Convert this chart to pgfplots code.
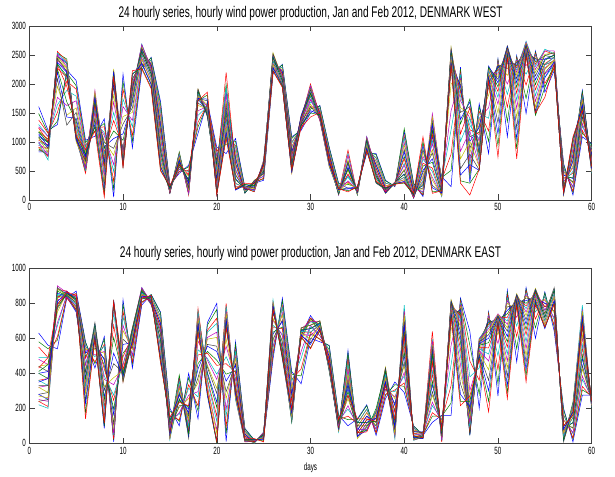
\documentclass[border=0pt]{standalone}
\usepackage{fontspec}
\setmainfont{Liberation Sans}
\newfontfamily\tickfont[FakeStretch=0.6]{Liberation Sans}
\newfontfamily\titlefont[FakeStretch=0.655]{Liberation Sans}
\usepackage{pgfplots}
\pgfplotsset{compat=1.18}
\usepackage{pgfplotstable}

% MATLAB default line colours
\definecolor{mb}{rgb}{0,0,1}
\definecolor{mg}{rgb}{0,0.5,0}
\definecolor{mr}{rgb}{1,0,0}
\definecolor{mc}{rgb}{0,0.75,0.75}
\definecolor{mm}{rgb}{0.75,0,0.75}
\definecolor{my}{rgb}{0.75,0.75,0}
\definecolor{mk}{rgb}{0.25,0.25,0.25}
\pgfplotscreateplotcyclelist{matlab}{{mb},{mg},{mr},{mc},{mm},{my},{mk}}

% day, then hours 0..23 (MW)
\pgfplotstableread[header=false]{
1 1610 1490 1380 1300 1260 1190 1170 1110 1090 1030 1000 940 910 850 830 880 910 980 1000 1060 1080 1140 1170 1240
2 1200 1160 1150 1100 1095 1050 1045 1000 995 950 935 890 885 840 825 770 750 690 770 820 890 920 990 1010
3 1300 1360 1510 1640 1770 1960 2090 2210 2260 2330 2350 2410 2420 2470 2480 2530 2560 2530 2510 2460 2440 2370 2340 2270
4 2240 2190 2050 1890 1630 1460 1290 1430 1690 1960 2090 2210 2270 2350 2370 2430 2390 2370 2300 2280 2220 2200 2140 2120
5 2060 1970 1910 1790 1710 1590 1510 1410 1360 1290 1260 1190 1170 1110 1100 1070 1070 1030 1030 1000 1040 1050 1100 1100
6 1030 990 930 910 850 830 770 750 690 670 610 600 560 550 500 490 460 510 550 630 670 750 790 870
7 1100 1190 1250 1350 1410 1510 1560 1650 1690 1770 1810 1890 1860 1790 1750 1670 1630 1550 1510 1430 1390 1310 1270 1190
8 1400 1320 1260 1160 1110 1020 990 920 890 820 790 720 700 640 620 560 530 450 400 300 240 140 100 50
9 50 190 320 490 610 770 890 1060 1190 1370 1510 1690 1810 1950 2010 2090 2120 2190 2210 2260 2230 2210 2150 2130
10 2170 2040 1910 1740 1610 1440 1310 1140 1030 910 890 840 830 790 800 770 780 750 750 690 660 590 570 550
11 900 1010 1110 1260 1370 1510 1590 1690 1740 1810 1840 1890 1890 1930 1930 1970 1970 2010 2020 2070 2090 2160 2180 2230
12 2240 2290 2320 2390 2420 2490 2520 2590 2610 2670 2690 2680 2630 2620 2570 2560 2510 2500 2450 2430 2370 2350 2280 2260
13 2460 2450 2410 2410 2370 2370 2330 2330 2290 2290 2250 2250 2210 2210 2170 2170 2120 2110 2060 2050 2000 1990 1940 1920
14 1700 1650 1570 1530 1450 1410 1330 1290 1210 1170 1090 1050 970 930 860 830 760 730 670 650 590 570 520 500
15 260 245 225 225 205 205 185 185 165 165 145 145 125 125 115 125 125 145 145 165 175 205 215 245
16 460 490 495 530 535 570 575 610 615 660 675 720 735 780 795 830 805 795 755 735 695 675 635 615
17 600 570 510 490 430 410 350 340 290 280 230 220 170 160 110 110 86 110 120 180 210 290 340 440
18 1150 1260 1340 1460 1540 1630 1670 1740 1770 1830 1850 1900 1910 1910 1870 1870 1830 1830 1790 1790 1750 1750 1710 1710
19 1690 1650 1650 1610 1610 1570 1570 1530 1530 1490 1490 1450 1450 1430 1460 1470 1530 1550 1610 1640 1710 1740 1810 1860
20 910 850 830 770 750 690 670 610 590 530 510 450 430 370 350 290 270 210 190 140 130 95 100 86
21 800 960 1090 1260 1390 1560 1690 1860 1990 2200 1940 1810 1690 1630 1540 1490 1410 1370 1290 1260 1190 1160 1090 1060
22 1060 1010 940 910 840 810 740 710 640 610 540 510 450 430 370 350 290 280 230 220 180 170 190 190
23 220 210 175 165 135 130 115 125 125 145 145 165 165 185 185 205 205 225 225 245 245 265 270 290
24 290 305 305 325 325 340 335 305 295 265 255 225 215 185 175 145 140 155 165 195 205 235 245 275
25 340 365 375 405 415 445 455 485 495 525 535 565 575 605 615 645 655 685 690 675 645 635 605 595
26 2170 2210 2220 2270 2280 2330 2340 2390 2400 2450 2460 2510 2540 2520 2470 2460 2410 2400 2350 2340 2290 2280 2230 2220
27 2340 2330 2290 2290 2250 2250 2210 2210 2170 2170 2130 2130 2090 2090 2050 2050 2010 2010 1990 1970 1980 1950 1960 1940
28 1090 1060 1000 980 920 900 840 820 770 760 710 700 650 640 590 580 530 520 470 460 490 490 530 530
29 1200 1230 1230 1270 1270 1310 1310 1350 1350 1390 1390 1430 1430 1460 1450 1410 1410 1370 1370 1330 1330 1290 1290 1250
30 1500 1570 1610 1690 1730 1810 1840 1910 1940 2000 1970 1960 1910 1900 1850 1840 1790 1780 1730 1650 1610 1540 1500 1430
31 1630 1620 1580 1580 1540 1540 1500 1500 1460 1460 1420 1430 1400 1410 1380 1390 1370 1390 1390 1430 1430 1470 1470 1510
32 910 900 860 860 820 820 780 780 740 740 700 700 660 660 620 620 580 570 590 590 630 630 670 670
33 290 280 240 240 200 200 160 160 120 120 90 86 95 95 115 115 135 135 155 155 175 175 195 195
34 200 270 310 390 430 510 550 630 670 860 800 770 690 650 570 530 450 410 330 290 210 190 160 140
35 230 215 185 175 145 135 105 100 86 95 95 115 115 135 135 155 155 175 175 195 195 215 215 230
36 800 840 850 900 910 960 970 1020 1030 1080 1090 1090 1050 1050 1010 1010 970 970 930 930 890 890 850 850
37 800 780 730 720 670 660 610 600 550 540 490 490 450 450 410 410 370 370 330 330 290 300 300 320
38 340 330 290 290 250 250 210 210 170 170 130 130 110 120 120 140 140 160 160 180 180 200 200 220
39 230 240 240 250 250 260 260 270 270 280 280 290 290 300 300 310 310 300 300 290 290 280 280 270
40 1180 1230 1110 1070 990 950 870 830 750 710 630 600 530 510 450 440 390 390 350 350 310 320 290 300
41 290 280 240 240 200 200 160 160 120 120 80 80 50 45 30 40 40 60 60 80 80 100 100 120
42 60 85 95 125 145 185 205 245 265 305 335 385 415 475 515 585 635 705 755 825 875 945 1005 1090
43 1100 1210 1290 1410 1490 1430 1340 1290 1190 1130 1030 970 870 810 710 650 550 490 390 340 250 210 140 115
44 400 390 350 350 310 310 270 270 230 230 190 190 150 150 110 110 70 60 80 80 120 120 160 160
45 230 510 790 1210 1540 2010 2290 2410 2450 2510 2530 2590 2630 2610 2560 2550 2500 2490 2440 2430 2380 2370 2330 2330
46 2290 2260 2190 2160 2090 2060 1990 1960 1890 1860 1790 1710 1590 1510 1390 1310 1140 1010 840 710 540 430 330 290
47 300 410 490 610 690 810 890 1010 1090 1210 1290 1410 1490 1610 1690 1740 1590 1410 1190 1010 790 610 290 86
48 1660 1610 1530 1490 1410 1370 1290 1250 1170 1130 1050 1010 930 890 810 770 690 660 590 570 520 510 530 530
49 800 1010 1190 1410 1590 1810 1930 2010 2040 2110 2140 2210 2240 2290 2310 2290 2240 2230 2180 2170 2120 2110 2060 2050
50 2430 2420 2400 2380 2360 2340 2320 2300 2270 2240 2210 2170 2130 2080 2020 1950 1870 1770 1650 1500 1330 1140 940 740
51 1090 1350 1600 1820 2000 2150 2270 2360 2430 2490 2540 2580 2620 2660 2640 2620 2600 2580 2560 2540 2520 2500 2480 2460
52 2490 2470 2450 2430 2410 2390 2370 2340 2310 2280 2240 2200 2150 2090 2020 1940 1840 1720 1580 1420 1240 1050 880 710
53 1490 1750 1980 2170 2320 2430 2520 2590 2650 2700 2740 2720 2700 2680 2660 2640 2620 2600 2580 2560 2540 2520 2500 2480
54 2570 2550 2530 2510 2490 2470 2440 2410 2380 2340 2300 2250 2200 2140 2070 1990 1900 1800 1700 1600 1530 1480 1460 1500
55 1860 1950 2010 2110 2170 2270 2330 2430 2490 2570 2600 2570 2510 2490 2430 2410 2350 2330 2270 2250 2190 2110 1940 1770
56 2230 2270 2280 2330 2340 2390 2400 2450 2460 2510 2520 2570 2540 2540 2500 2500 2460 2460 2420 2420 2380 2380 2340 2340
57 630 610 560 550 500 490 440 430 380 370 320 310 260 250 200 190 140 130 95 86 100 105 130 135
58 86 130 150 210 230 290 310 370 390 460 490 560 590 660 690 760 790 860 890 960 990 1050 1060 1090
59 1090 1160 1200 1280 1320 1400 1440 1520 1560 1640 1680 1760 1790 1860 1890 1870 1810 1790 1730 1710 1650 1630 1570 1550
60 970 950 900 890 840 830 780 770 720 710 660 650 600 590 540 530 480 460 490 490 530 530 570 570
}\westtab

\pgfplotstableread[header=false]{
1 630 580 550 490 480 440 440 400 400 360 360 320 320 280 280 240 240 220 250 270 330 350 410 430
2 560 540 490 490 450 450 410 410 370 370 330 330 290 290 250 250 210 200 240 260 330 370 450 490
3 540 590 610 670 690 750 770 830 840 880 880 900 880 890 860 870 840 850 820 830 800 810 780 790
4 830 840 835 850 845 860 855 870 865 870 855 860 845 850 835 840 830 845 835 850 845 860 855 865
5 870 855 855 840 845 830 835 815 815 795 795 775 775 755 750 765 765 785 785 805 805 825 825 845
6 580 575 555 555 535 535 515 515 495 485 455 445 415 405 375 365 335 325 295 285 245 225 175 140
7 430 455 465 495 505 535 545 575 585 615 625 655 665 690 675 675 655 655 635 635 615 615 595 595
8 610 595 565 555 525 515 485 475 445 425 385 365 325 305 265 245 205 185 145 125 95 85 100 115
9 8 20 22 45 55 95 115 165 195 245 275 335 375 455 515 605 675 745 785 805 805 820 810 810
10 820 795 755 725 675 645 595 565 515 495 455 445 415 405 385 385 365 365 350 350 355 385 395 425
11 430 455 465 495 505 535 545 575 585 615 625 655 660 660 645 645 625 625 605 605 585 585 565 565
12 790 805 805 825 825 845 845 865 865 885 890 890 875 880 865 870 855 860 845 850 835 840 825 830
13 850 850 840 840 830 830 820 820 810 810 800 800 790 800 795 810 805 820 815 830 825 840 835 845
14 750 745 725 725 705 705 685 685 665 665 645 645 625 625 595 585 555 545 515 505 485 485 465 460
15 200 185 155 145 115 105 75 65 35 35 20 30 30 50 50 70 70 90 90 110 110 130 130 150
16 100 125 135 165 175 205 215 245 255 285 295 325 335 365 375 390 365 355 325 315 285 275 245 235
17 400 375 335 315 275 255 215 195 155 135 95 75 45 30 45 55 85 95 125 135 165 175 205 215
18 140 185 215 265 295 345 375 425 455 505 535 585 615 665 695 745 770 755 725 715 685 675 645 635
19 690 675 645 635 605 595 565 555 525 515 485 475 445 435 405 395 365 355 325 315 285 270 285 295
20 800 765 715 685 635 605 555 525 475 445 395 365 315 285 235 205 155 125 75 55 15 5 0 10
21 10 55 95 155 195 255 295 355 395 455 495 555 595 655 695 755 800 785 755 745 715 705 675 665
22 580 565 535 525 495 485 455 445 415 405 375 365 335 325 295 285 255 250 265 265 285 285 305 305
23 85 82 73 72 63 62 53 52 43 42 33 32 23 22 13 12 8 12 12 16 16 20 20 24
24 20 19 15 15 11 11 7 7 3 3 0 3 3 7 7 11 11 15 15 19 19 23 24 27
25 27 31 32 37 39 45 46 53 55 61 65 63 57 55 49 47 41 39 33 31 25 21 13 8
26 480 505 515 545 555 585 595 625 635 665 675 705 715 745 755 785 795 820 805 805 785 785 765 765
27 830 815 785 775 745 735 705 695 665 655 625 615 585 575 545 535 505 495 480 490 485 500 495 510
28 410 395 365 355 325 315 285 275 245 235 205 195 165 155 125 120 135 135 155 155 175 175 195 195
29 340 385 425 485 525 590 595 615 615 635 635 655 660 660 645 650 635 640 625 630 615 620 605 610
30 600 625 635 665 675 705 715 730 715 715 695 695 675 675 655 655 635 635 615 595 575 565 545 540
31 580 595 595 615 615 635 635 655 655 675 675 695 700 700 685 690 675 680 665 670 655 660 645 650
32 560 555 535 535 515 515 495 495 475 475 455 455 435 435 415 410 420 420 430 430 440 440 450 450
33 160 155 135 135 115 115 95 95 75 75 65 75 75 85 85 95 95 105 105 115 115 125 125 135
34 100 135 155 195 215 255 275 315 335 375 395 435 455 495 530 515 475 455 415 395 355 335 295 275
35 140 135 115 115 95 95 75 75 55 55 35 35 27 40 40 60 60 80 80 100 100 120 120 140
36 220 215 195 195 175 175 155 155 135 135 115 115 95 95 75 75 65 80 80 100 100 120 120 140
37 45 60 60 80 80 100 100 120 120 140 140 160 160 180 180 200 185 185 165 165 145 145 125 125
38 255 275 280 305 310 335 340 365 370 395 400 425 435 430 410 410 390 390 370 370 350 350 330 330
39 350 335 305 295 265 255 225 215 185 175 145 135 105 95 65 55 35 27 45 55 85 95 125 135
40 290 325 345 385 405 445 465 505 525 565 585 625 645 685 705 745 765 790 755 735 695 675 635 615
41 100 98 88 86 78 76 68 66 58 56 48 46 38 36 28 26 18 17 22 24 32 34 42 44
42 45 49 50 55 56 61 62 65 61 60 55 54 49 48 43 42 37 36 31 30 27 27 31 32
43 120 155 175 215 235 275 295 335 355 395 415 455 475 515 535 575 640 595 585 555 545 515 505 465
44 160 155 135 135 115 115 95 95 75 75 55 55 35 35 15 15 8 20 20 40 40 60 60 80
45 160 230 330 450 560 650 700 740 770 790 800 810 820 815 805 800 790 780 770 760 750 740 730 720
46 830 820 810 800 790 780 770 760 745 730 710 690 665 640 610 580 540 500 450 400 340 280 240 215
47 640 560 470 380 300 240 190 150 120 100 85 70 60 50 45 55 70 90 120 150 180 210 240 270
48 200 280 360 430 480 520 550 570 585 595 600 595 590 580 570 560 550 540 530 520 510 500 490 480
49 750 745 740 730 725 715 710 700 690 680 670 655 640 620 600 575 545 510 470 420 360 300 240 180
50 270 340 420 500 570 620 660 690 710 720 730 740 735 730 725 720 715 710 705 700 695 690 685 680
51 875 860 845 830 815 800 780 760 740 720 700 680 660 640 610 580 550 510 470 430 380 330 290 255
52 465 540 610 670 720 760 790 810 825 835 845 850 855 850 845 840 835 830 825 820 815 810 800 790
53 890 880 870 860 850 840 830 815 800 785 770 750 730 705 680 650 620 580 540 500 460 420 385 350
54 600 660 710 750 780 800 820 835 850 860 870 880 885 880 875 870 860 850 840 830 820 810 800 790
55 865 860 840 840 820 820 800 800 780 780 760 760 740 740 720 720 700 700 680 680 660 655 665 665
56 640 665 675 705 715 745 755 785 795 825 835 865 875 890 875 875 855 855 835 835 815 815 795 795
57 200 190 165 160 135 130 105 100 75 70 45 40 15 8 20 20 40 40 60 60 80 80 100 100
58 8 25 30 55 60 85 90 115 120 145 150 175 180 205 210 235 220 220 200 200 180 180 160 160
59 275 305 325 365 385 425 445 485 505 545 565 605 625 665 685 725 745 790 765 755 725 715 685 675
60 275 272 263 262 253 252 243 242 233 232 223 222 213 212 203 200 207 208 217 218 227 228 237 238
}\easttab

\pgfplotsset{
  hourly/.style={
    scale only axis, width=562.4bp,
    xmin=0, xmax=60, xtick={0,10,...,60},
    tick align=inside, major tick length=5.5bp,
    axis line style={black!75, line width=0.6bp},
    every tick/.style={black!75, line width=0.5bp},
    ticklabel style={font=\tickfont\fontsize{10.5}{11}\selectfont},
    /pgf/number format/assume math mode=true,
    /pgf/number format/1000 sep={},
    title style={font=\titlefont\fontsize{15.5}{15.5}\selectfont, anchor=base, at={(0.5,1)}},
    cycle list name=matlab,
    every axis plot/.append style={line width=0.5bp, no markers},
  }
}

\begin{document}
\begin{tikzpicture}
\useasboundingbox (0,0) rectangle (615bp,477bp);

\begin{axis}[hourly, at={(29.3bp,277bp)}, anchor=south west, height=174bp,
    ymin=0, ymax=3000, ytick={0,500,...,3000},
    title={24 hourly series, hourly wind power production, Jan and Feb 2012, DENMARK WEST},
    title style={yshift=3bp}]
\pgfplotsinvokeforeach{1,...,24}{
  \addplot table[x index=0, y index=#1] {\westtab};
}
\end{axis}

\begin{axis}[hourly, at={(29.3bp,33.7bp)}, anchor=south west, height=175bp,
    ymin=0, ymax=1000, ytick={0,200,...,1000},
    title={24 hourly series, hourly wind power production, Jan and Feb 2012, DENMARK EAST},
    title style={yshift=5bp},
    xlabel={days},
    xlabel style={font=\tickfont\fontsize{10.5}{11}\selectfont, at={(axis description cs:0.5,0)}, anchor=center, yshift=-24bp}]
\pgfplotsinvokeforeach{1,...,24}{
  \addplot table[x index=0, y index=#1] {\easttab};
}
\end{axis}
\end{tikzpicture}
\end{document}
